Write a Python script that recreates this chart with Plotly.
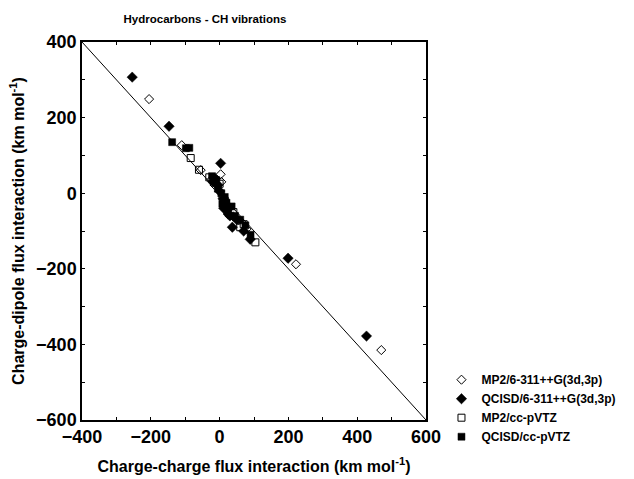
import plotly.graph_objects as go

# MP2/6-311++G(3d,3p) (open)
mp2_631_x = [-205, -110, -55, 3, 5, -15, 10, 28, 55, 78, 222, 470, -25, 40]
mp2_631_y = [249, 127, 61, 50, 30, 22, -10, -40, -72, -95, -188, -415, 35, -62]
# QCISD/6-311++G(3d,3p) (filled diamond)
qc_631_x = [-254, -147, 3, -12, -5, 0, 10, 20, 25, 37, 50, 70, 89, 199, 427, 12, 30, -20]
qc_631_y = [307, 177, 79, 38, 22, 5, -15, -30, -55, -90, -70, -100, -122, -172, -378, -40, -60, 30]
# MP2/cc-pVTZ (open square)
mp2_cc_x = [-84, -30, 0, 15, 40, 70, 104, -60, 60]
mp2_cc_y = [93, 42, 25, -20, -50, -82, -130, 62, -90]
# QCISD/cc-pVTZ (filled square)
qc_cc_x = [-138, -98, -88, -22, -10, 5, 15, 20, 35, 45, 60, 75, 90, -5, 25, 8]
qc_cc_y = [135, 119, 120, 45, 35, 0, -10, -25, -35, -60, -70, -85, -110, 12, -45, -28]

series_names = ["MP2/6-311++G(3d,3p)", "QCISD/6-311++G(3d,3p)", "MP2/cc-pVTZ", "QCISD/cc-pVTZ"]
x_range = [-400, 600]
y_range = [-600, 400]
x_ticks = [-400, -200, 0, 200, 400, 600]
y_ticks = [-600, -400, -200, 0, 200, 400]

fig = go.Figure()

# reference line y = -x across the x range
fig.add_trace(go.Scatter(x=x_range, y=[-v for v in x_range], mode="lines",
                         line=dict(color="black", width=1), showlegend=False, hoverinfo="skip"))

styles = [
    dict(symbol="diamond-open", color="black", size=7, line=dict(width=1, color="black")),
    dict(symbol="diamond", color="black", size=8, line=dict(width=0.5, color="black")),
    dict(symbol="square-open", color="black", size=7, line=dict(width=1, color="black")),
    dict(symbol="square", color="black", size=7, line=dict(width=0.5, color="black")),
]
data = [(mp2_631_x, mp2_631_y), (qc_631_x, qc_631_y), (mp2_cc_x, mp2_cc_y), (qc_cc_x, qc_cc_y)]
for name, (xs, ys), st in zip(series_names, data, styles):
    fig.add_trace(go.Scatter(x=xs, y=ys, mode="markers", name=name,
                             marker=dict(symbol=st["symbol"], color=st["color"], size=st["size"], line=st["line"])))

axis_common = dict(showline=True, linecolor="black", linewidth=1.5, mirror="ticks",
                   ticks="inside", ticklen=3, tickcolor="black", showgrid=False, zeroline=False,
                   automargin=False,
                   tickfont=dict(family="Liberation Sans, Arial", size=18, color="black", weight="bold"),
                   minor=dict(ticks="inside", ticklen=3, dtick=100, tickcolor="black"))

fig.update_xaxes(range=x_range, tickvals=x_ticks, **axis_common,
                 title=dict(text="Charge-charge flux interaction (km mol<sup>-1</sup>)",
                            font=dict(family="Liberation Sans, Arial", size=16, color="black", weight="bold"),
                            standoff=14))
fig.update_yaxes(range=y_range, tickvals=y_ticks, **axis_common,
                 title=dict(text="Charge-dipole flux interaction (km mol<sup>-1</sup>)",
                            font=dict(family="Liberation Sans, Arial", size=16, color="black", weight="bold"),
                            standoff=8))

fig.update_layout(
    width=634, height=479,
    margin=dict(l=82, r=205, t=42, b=59),
    paper_bgcolor="white", plot_bgcolor="white",
    title=dict(text="Hydrocarbons - CH vibrations", x=205 / 634, xanchor="center", y=1 - 19 / 479, yanchor="middle",
               font=dict(family="Liberation Sans Narrow, Liberation Sans, Arial", size=11.5, color="black", weight="bold")),
    legend=dict(x=1.045, y=0.145, xanchor="left", yanchor="top", bgcolor="rgba(0,0,0,0)",
                font=dict(family="Liberation Sans, Arial", size=12, color="black", weight="bold"),
                tracegroupgap=0),
    showlegend=True,
)

fig.write_html("out.html", config={"displayModeBar": False},
               post_script="document.body.style.margin='0';")
